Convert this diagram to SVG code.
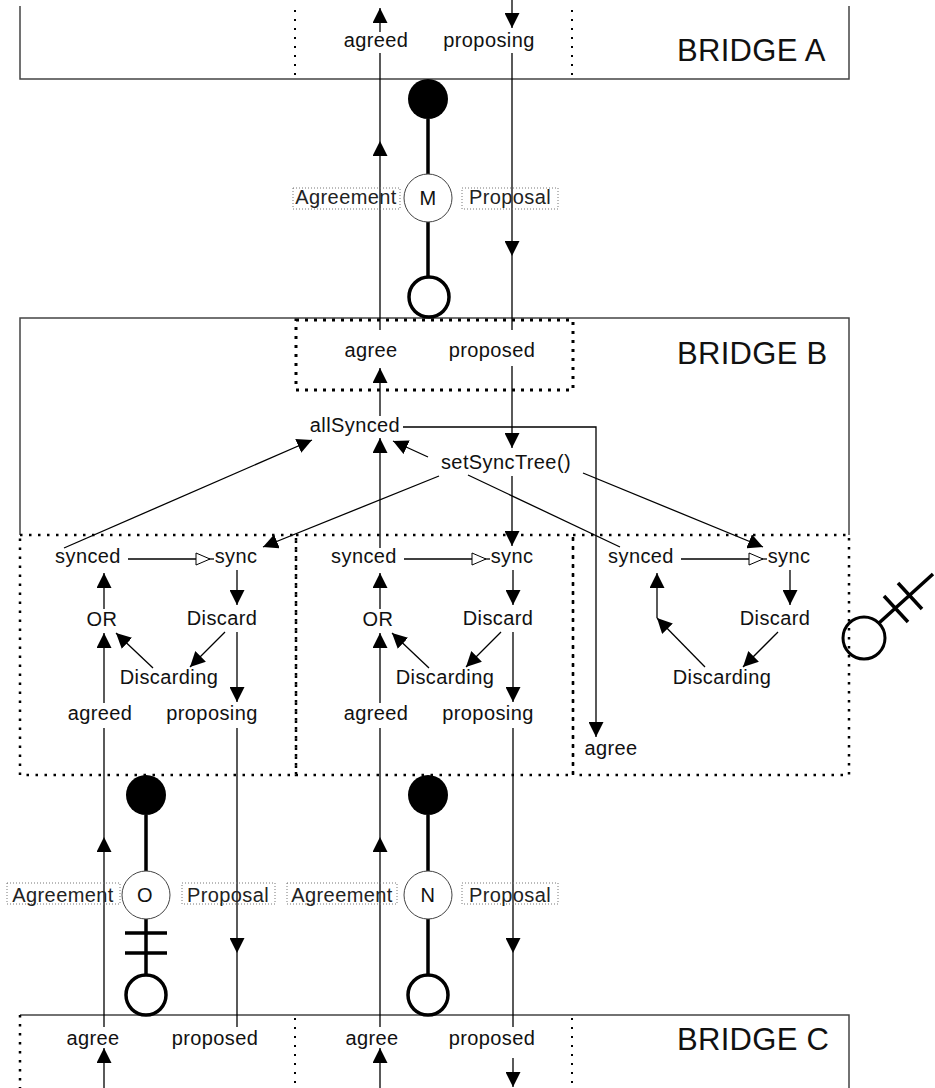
<svg xmlns="http://www.w3.org/2000/svg" width="935" height="1088" viewBox="0 0 935 1088">
<style>
.t{font-family:"Liberation Sans",Arial,sans-serif;font-size:20px;letter-spacing:0.4px;fill:#111;text-anchor:middle}
.title{font-size:31px;text-anchor:start;letter-spacing:0.3px}
.lbl{fill:#222}
.box{fill:none;stroke:#444;stroke-width:1.5}
.dots{fill:none;stroke:#000;stroke-width:2.5;stroke-dasharray:2.5 6.5}
.dotsB{fill:none;stroke:#000;stroke-width:3;stroke-dasharray:3 6}
.sep{fill:none;stroke:#000;stroke-width:2;stroke-dasharray:2 7}
.c{fill:none;stroke:#000;stroke-width:1.3}
.thick{fill:none;stroke:#000;stroke-width:3.5}
.lblbox{fill:none;stroke:#777;stroke-width:1;stroke-dasharray:1 2}
.ring{fill:#fff;stroke:#444;stroke-width:1}
</style>
<defs>
<marker id="ah" markerUnits="userSpaceOnUse" markerWidth="15" markerHeight="15" viewBox="0 0 15 15" refX="15" refY="7.5" orient="auto"><path d="M0,0 L15,7.5 L0,15 z" fill="#000"/></marker>
<marker id="oh" markerUnits="userSpaceOnUse" markerWidth="16" markerHeight="14" viewBox="0 0 16 14" refX="15" refY="7" orient="auto"><path d="M1,1 L15,7 L1,13 z" fill="#fff" stroke="#000" stroke-width="1"/></marker>
</defs>
<rect width="935" height="1088" fill="#fff"/>

<!-- Bridge frames -->
<g id="bridgeA">
<path class="box" d="M20,6 V79 H849 V6"/>
<path class="sep" d="M295,10 V79 M572,10 V79"/>
<text class="t title" x="677" y="61">BRIDGE A</text>
<text class="t" x="376" y="47">agreed</text>
<text class="t" x="489" y="47">proposing</text>
</g>
<g id="bridgeB">
<path class="box" d="M20,535 V318 H849 V535"/>
<rect class="dotsB" x="296" y="320" width="277" height="70"/>
<text class="t title" x="677" y="364">BRIDGE B</text>
<text class="t" x="371" y="357">agree</text>
<text class="t" x="492" y="357">proposed</text>
</g>
<g id="bridgeC">
<path class="box" d="M20,1015 H849 V1088"/>
<path class="dots" d="M20,1015 V1088"/>
<path class="sep" d="M295,1018 V1088 M572,1018 V1088"/>
<text class="t title" x="677" y="1050">BRIDGE C</text>
<text class="t" x="93" y="1045">agree</text>
<text class="t" x="215" y="1045">proposed</text>
<text class="t" x="372" y="1045">agree</text>
<text class="t" x="492" y="1045">proposed</text>
</g>

<!-- sub boxes -->
<g id="subLeft">
<rect class="dots" x="20" y="535" width="276" height="240"/>
</g>
<g id="subMid">
<rect class="dots" x="296" y="535" width="277" height="240"/>
</g>
<g id="subRight">
<rect class="dots" x="573" y="535" width="276" height="240"/>
</g>

<!-- connectors -->
<g id="connectors">
<!-- A <-> B -->
<path class="c" d="M380,330 V141" marker-end="url(#ah)"/>
<path class="c" d="M380,141 V53"/>
<path class="c" d="M380,32 V8" marker-end="url(#ah)"/>
<path class="c" d="M512,0 V28" marker-end="url(#ah)"/>
<path class="c" d="M512,53 V256" marker-end="url(#ah)"/>
<path class="c" d="M512,256 V330"/>
<!-- Bridge B inner -->
<path class="c" d="M380,416 V368" marker-end="url(#ah)"/>
<path class="c" d="M512,366 V448" marker-end="url(#ah)"/>
<path class="c" d="M403,427 H596 V737" marker-end="url(#ah)"/>
<path class="c" d="M428,457 L393,441" marker-end="url(#ah)"/>
<path class="c" d="M64,548 L312,440" marker-end="url(#ah)"/>
<path class="c" d="M380,548 V438" marker-end="url(#ah)"/>
<path class="c" d="M439,476 L263,547" marker-end="url(#ah)"/>
<path class="c" d="M468,475 L620,547"/>
<path class="c" d="M583,473 L763,547" marker-end="url(#ah)"/>
<path class="c" d="M512,476 V546" marker-end="url(#ah)"/>
<!-- left box -->
<path class="c" d="M128,559 H210" marker-end="url(#oh)"/>
<path class="c" d="M210,559 H214"/>
<path class="c" d="M237,570 V605" marker-end="url(#ah)"/>
<path class="c" d="M225,632 L190,667" marker-end="url(#ah)"/>
<path class="c" d="M153,668 L116,633" marker-end="url(#ah)"/>
<path class="c" d="M104,609 V573" marker-end="url(#ah)"/>
<path class="c" d="M104,703 V633" marker-end="url(#ah)"/>
<path class="c" d="M237,632 V702" marker-end="url(#ah)"/>
<!-- middle box -->
<path class="c" d="M404,559 H486" marker-end="url(#oh)"/>
<path class="c" d="M486,559 H490"/>
<path class="c" d="M513,570 V605" marker-end="url(#ah)"/>
<path class="c" d="M501,632 L466,667" marker-end="url(#ah)"/>
<path class="c" d="M429,668 L392,633" marker-end="url(#ah)"/>
<path class="c" d="M380,609 V573" marker-end="url(#ah)"/>
<path class="c" d="M380,703 V633" marker-end="url(#ah)"/>
<path class="c" d="M513,632 V702" marker-end="url(#ah)"/>
<!-- right box -->
<path class="c" d="M681,559 H763" marker-end="url(#oh)"/>
<path class="c" d="M763,559 H767"/>
<path class="c" d="M790,570 V605" marker-end="url(#ah)"/>
<path class="c" d="M778,632 L743,667" marker-end="url(#ah)"/>
<path class="c" d="M705,667 L657,618" marker-end="url(#ah)"/>
<path class="c" d="M657,618 V573" marker-end="url(#ah)"/>
<!-- B <-> C -->
<path class="c" d="M104,1088 V1048" marker-end="url(#ah)"/>
<path class="c" d="M104,1027 V837" marker-end="url(#ah)"/>
<path class="c" d="M104,837 V728"/>
<path class="c" d="M237,728 V953" marker-end="url(#ah)"/>
<path class="c" d="M237,953 V1027"/>
<path class="c" d="M380,1088 V1048" marker-end="url(#ah)"/>
<path class="c" d="M380,1027 V837" marker-end="url(#ah)"/>
<path class="c" d="M380,837 V728"/>
<path class="c" d="M513,728 V953" marker-end="url(#ah)"/>
<path class="c" d="M513,953 V1027"/>
<path class="c" d="M513,1058 V1087" marker-end="url(#ah)"/>
</g>

<!-- Bridge B nodes -->
<g id="allSynced"><text class="t" x="355" y="432">allSynced</text></g>
<g id="setSyncTree"><text class="t" x="506" y="469">setSyncTree()</text></g>

<g id="leftNodes">
<text class="t" x="88" y="563">synced</text>
<text class="t" x="236" y="563">sync</text>
<text class="t" x="102" y="626">OR</text>
<text class="t" x="222" y="625">Discard</text>
<text class="t" x="169" y="684">Discarding</text>
<text class="t" x="100" y="720">agreed</text>
<text class="t" x="212" y="720">proposing</text>
</g>
<g id="midNodes">
<text class="t" x="364" y="563">synced</text>
<text class="t" x="512" y="563">sync</text>
<text class="t" x="378" y="626">OR</text>
<text class="t" x="498" y="625">Discard</text>
<text class="t" x="445" y="684">Discarding</text>
<text class="t" x="376" y="720">agreed</text>
<text class="t" x="488" y="720">proposing</text>
</g>
<g id="rightNodes">
<text class="t" x="641" y="563">synced</text>
<text class="t" x="789" y="563">sync</text>
<text class="t" x="775" y="625">Discard</text>
<text class="t" x="722" y="684">Discarding</text>
<text class="t" x="611" y="755">agree</text>
</g>

<!-- link M -->
<g id="linkM">
<circle cx="428" cy="99" r="20" fill="#000"/>
<path class="thick" d="M428,119 V175 M428,222 V277"/>
<circle class="ring" cx="428" cy="198" r="24"/>
<text class="t" x="428" y="205">M</text>
<circle class="thick" cx="429" cy="297" r="20"/>
<rect class="lblbox" x="293" y="188" width="107" height="21"/>
<text class="t lbl" x="346" y="204">Agreement</text>
<rect class="lblbox" x="462" y="188" width="96" height="21"/>
<text class="t lbl" x="510" y="204">Proposal</text>
</g>

<!-- link O -->
<g id="linkO">
<circle cx="146" cy="795" r="20" fill="#000"/>
<path class="thick" d="M146,815 V871 M146,919 V975 M125,933 H167 M125,953 H167"/>
<circle class="ring" cx="146" cy="895" r="24"/>
<text class="t" x="145" y="902">O</text>
<circle class="thick" cx="146" cy="995" r="20"/>
<rect class="lblbox" x="7" y="883" width="113" height="21"/>
<text class="t lbl" x="63" y="902">Agreement</text>
<rect class="lblbox" x="182" y="883" width="93" height="21"/>
<text class="t lbl" x="228" y="902">Proposal</text>
</g>

<!-- link N -->
<g id="linkN">
<circle cx="428" cy="795" r="20" fill="#000"/>
<path class="thick" d="M428,815 V871 M428,919 V975"/>
<circle class="ring" cx="428" cy="895" r="24"/>
<text class="t" x="428" y="902">N</text>
<circle class="thick" cx="428" cy="995" r="20"/>
<rect class="lblbox" x="287" y="883" width="110" height="21"/>
<text class="t lbl" x="342" y="902">Agreement</text>
<rect class="lblbox" x="462" y="883" width="96" height="21"/>
<text class="t lbl" x="510" y="902">Proposal</text>
</g>

<!-- right-side link stub -->
<g id="linkStub">
<circle cx="864" cy="638" r="21" fill="none" stroke="#000" stroke-width="3"/>
<path class="thick" d="M879,623 L933,574 M884,596 L908,622 M898,583 L922,609" stroke-width="3"/>
</g>
</svg>
